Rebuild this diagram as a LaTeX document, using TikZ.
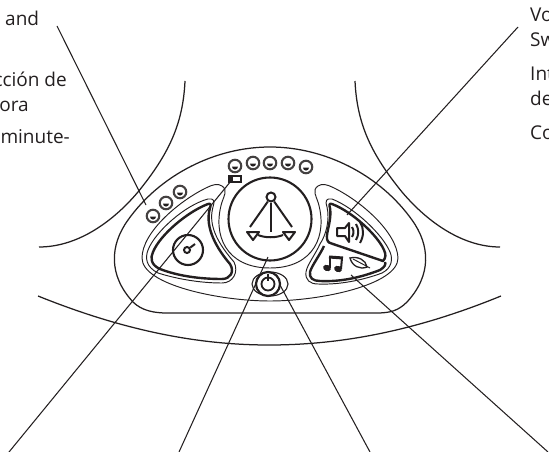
\documentclass[tikz,border=0pt]{standalone}
\usepackage{fontspec}
\setmainfont{Open Sans}
\usetikzlibrary{positioning,calc,shapes.geometric}
\definecolor{Ink}{HTML}{231F20}
\begin{document}
\begin{tikzpicture}[
  x=1pt,y=-1pt,
  thinline/.style={draw=Ink,line width=0.95pt},
  body/.style={draw=Ink,line width=1.25pt},
  thickline/.style={draw=Ink,line width=2.4pt,line join=round},
  iconline/.style={draw=Ink,line width=2pt,line join=round},
  leader/.style={draw=Ink,line width=1.05pt},
  led/.style={circle,draw=Ink!85,line width=2.1pt,minimum size=12.5pt,inner sep=0pt},
  label/.style={font=\fontsize{19}{21}\selectfont,text=Ink,inner sep=0pt,anchor=base west}
]
\useasboundingbox (0,0) rectangle (549,452);
\clip (0,0) rectangle (549,452);
% text
\node[label] (and) at (5,26) {and};
\node[label,anchor=base east] (cion) at (67,86) {cción de};
\node[label,anchor=base east] (ora) at (29,111) {ora};
\node[label,anchor=base east] (minute) at (70,143) {minute-};
\node[label] (vo) at (530,22) {Vo};
\node[label] (sw) at (530,47) {Sw};
\node[label] (int) at (530,81) {Int};
\node[label] (de) at (530,106) {de};
\node[label] (co) at (530,139) {Co};
% shoulders and table
\draw[body] (185,81) .. controls (183,125) and (168,155) .. (138,192) .. controls (110,225) and (75,247) .. (39,247);
\draw[body] (355,81) .. controls (357,125) and (372,155) .. (402,192) .. controls (430,225) and (465,247) .. (500,247);
\draw[body] (38,296) .. controls (115,327) and (190,345) .. (269,345) .. controls (350,345) and (425,327) .. (501,296);
% body of the unit
\draw[body] (270,147) .. controls (215,147) and (160,175) .. (128,220) .. controls (110,245) and (108,275) .. (133,302) .. controls (142,311) and (155,313) .. (167,313) -- (376,313) .. controls (390,313) and (398,311) .. (407,302) .. controls (432,275) and (430,245) .. (412,220) .. controls (380,175) and (325,147) .. (270,147) -- cycle;
% outline round buttons and dial
\draw[thinline] (222,186) .. controls (228,190) and (224,196) .. (222,202) .. controls (212,235) and (226,268) .. (270,268) .. controls (314,268) and (328,235) .. (318,202) .. controls (316,196) and (312,190) .. (318,186) .. controls (322,183) and (328,185) .. (332,187) .. controls (360,200) and (397,232) .. (398,258) .. controls (398,285) and (320,301) .. (270,301) .. controls (220,301) and (142,285) .. (142,258) .. controls (142,232) and (180,200) .. (208,187) .. controls (212,185) and (218,183) .. (222,186) -- cycle;
% left button
\draw[thinline] (208,199) .. controls (214,198) and (215,201) .. (213,207) .. controls (207,228) and (222,248) .. (234,262) .. controls (239,272) and (233,283) .. (222,283) .. controls (200,283) and (177,279) .. (158,273) .. controls (146,267) and (145,258) .. (148,250) .. controls (155,232) and (185,205) .. (208,199) -- cycle;
\draw[thickline] (208,204) .. controls (211,203) and (211,205) .. (210,208) .. controls (204,228) and (218,250) .. (230,264) .. controls (235,272) and (230,279) .. (222,279) .. controls (200,279) and (178,276) .. (160,269) .. controls (151,265) and (150,258) .. (153,252) .. controls (160,235) and (187,212) .. (208,204) -- cycle;
% right buttons
\draw[thinline] (332,199) .. controls (326,198) and (325,201) .. (327,207) .. controls (330,220) and (326,235) .. (320,244) .. controls (315,255) and (307,265) .. (306,272) .. controls (305,280) and (310,284) .. (318,284) .. controls (342,285) and (366,279) .. (382,273) .. controls (392,268) and (393,259) .. (390,252) .. controls (383,235) and (355,208) .. (332,199) -- cycle;
\draw[thickline] (332,204) .. controls (329,203) and (329,205) .. (330,208) .. controls (332,220) and (326,232) .. (327,239) .. controls (328,243) and (330,243) .. (333,244) -- (383,261) .. controls (386,258) and (386,254) .. (384,250) .. controls (378,236) and (353,212) .. (332,204) -- cycle;
\draw[thickline] (324,246) .. controls (320,255) and (312,265) .. (310,272) .. controls (309,278) and (313,281) .. (320,281) .. controls (342,282) and (362,277) .. (380,270) .. controls (385,267) and (386,264) .. (385,262);
% leds
\foreach \lx/\ly [count=\li] in {235/166,253/163,270/163,288/163,306/167,153/216,166/203,180/192}{
  \node[led] (led\li) at (\lx,\ly) {};
  \fill[Ink] ($(led\li)+(-3,0.6)$) arc[start angle=180,end angle=0,radius=3] -- cycle;
}
% battery
\node[draw=Ink,line width=1.1pt,minimum width=12pt,minimum height=6pt,inner sep=0pt] (battery) at (235,179) {};
\fill[Ink] (229,176) rectangle (233,182);
% dial
\node[circle,draw=Ink,line width=2.1pt,minimum size=83pt,inner sep=0pt] (dial) at (270,219) {};
\node[circle,draw=Ink,line width=2pt,minimum size=9pt,inner sep=0pt] (pivot) at (271,197) {};
\draw[iconline] (pivot) -- (250,227);
\draw[iconline] (pivot) -- (292,227);
\draw[iconline] (pivot) -- (271,232);
\draw[iconline] (247,232) -- (259,232) -- (253,240) -- cycle;
\draw[iconline] (283,232) -- (295,232) -- (289,240) -- cycle;
\draw[iconline] (258,235) .. controls (265,238) and (276,238) .. (283,235);
% knob
\node[circle,draw=Ink,line width=2.1pt,minimum size=30pt,inner sep=0pt] (knob) at (188,250) {};
\node[circle,draw=Ink,line width=2pt,minimum size=6pt,inner sep=0pt] (knobhub) at (187,250) {};
\draw[iconline] (knobhub) -- (195,244);
% power switch
\node[ellipse,draw=Ink,line width=1.1pt,minimum width=36pt,minimum height=24pt,inner sep=0pt] (power) at (270,284) {};
\node[circle,draw=Ink,line width=2.2pt,minimum size=24pt,inner sep=0pt] (powerring) at (268,284) {};
\node[circle,draw=Ink,line width=1.8pt,minimum size=13pt,inner sep=0pt] (powersign) at (268,284) {};
\draw[iconline] (268,274) -- (268,281);
% speaker
\draw[iconline] (337,228) -- (345,228) -- (349,223) -- (349,242) -- (345,236) -- (337,236) -- cycle;
\draw[iconline] (352,227) .. controls (354,230) and (354,234) .. (352,237);
\draw[iconline] (356,224) .. controls (359,229) and (359,235) .. (356,240);
\draw[iconline] (360,222) .. controls (364,228) and (364,236) .. (360,243);
% note and leaf
\fill[Ink,rotate around={-20:(327,268)}] (327,268) ellipse[x radius=4,y radius=3.1];
\fill[Ink,rotate around={-20:(338,269)}] (338,269) ellipse[x radius=4,y radius=3.1];
\draw[iconline] (330,268) -- (330,257);
\draw[iconline] (341,269) -- (342,258);
\draw[iconline,line width=3pt,line cap=butt] (329,257) -- (343,258);
\draw[thinline,line width=1.3pt] (350,258) .. controls (358,256) and (366,260) .. (367,267) .. controls (360,270) and (352,266) .. (350,258) -- cycle;
\draw[thinline] (353,259) -- (370,268);
% leaders
\coordinate (topleft) at (57,26);
\coordinate (topright) at (518,27);
\coordinate (bottom1) at (9,452);
\coordinate (bottom2) at (179,452);
\coordinate (bottom3) at (370,452);
\coordinate (bottom4) at (548,452);
\coordinate (ledend) at (146,205);
\coordinate (speakerend) at (347,215);
\coordinate (batteryend) at (231,181);
\coordinate (dialend) at (268,257);
\coordinate (powerend) at (280,285);
\coordinate (noteend) at (351,275);
\draw[leader] (topleft) -- (ledend);
\draw[leader] (topright) -- (speakerend);
\draw[leader] (bottom1) -- (batteryend);
\draw[leader] (bottom2) -- (dialend);
\draw[leader] (bottom3) -- (powerend);
\draw[leader] (bottom4) -- (noteend);
\end{tikzpicture}
\end{document}
